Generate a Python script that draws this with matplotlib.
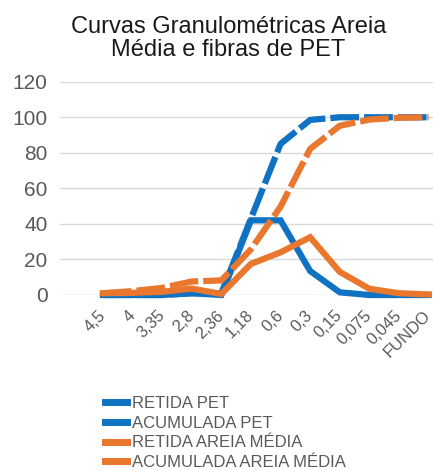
import matplotlib
matplotlib.use("Agg")
import matplotlib.pyplot as plt
from matplotlib.lines import Line2D
from matplotlib.transforms import ScaledTranslation

categories = ["4,5", "4", "3,35", "2,8", "2,36", "1,18", "0,6", "0,3", "0,15", "0,075", "0,045", "FUNDO"]
retida_pet = [0, 0, 0, 1, 0, 42, 42, 13.5, 1.5, 0, 0, 0]
acumulada_pet = [0, 0, 0, 1, 1, 43, 85, 98.5, 100, 100, 100, 100]
retida_areia = [1.0, 1.2, 1.8, 3.6, 0.6, 17.5, 24.0, 32.5, 13.0, 3.5, 1.0, 0.3]
acumulada_areia = [1.0, 2.2, 4.0, 7.6, 8.2, 25.7, 49.7, 82.2, 95.2, 98.7, 99.7, 100]
labels = ["RETIDA PET", "ACUMULADA PET", "RETIDA AREIA MÉDIA", "ACUMULADA AREIA MÉDIA"]
yticks = [0, 20, 40, 60, 80, 100, 120]

BLUE = "#0F72C2"
ORANGE = "#EA772E"
TXT = "#595959"

plt.rcParams['font.family'] = ['Liberation Sans', 'DejaVu Sans']

fig = plt.figure(figsize=(4.33, 4.70), dpi=100)
ax = fig.add_axes([60/433, 1 - 295/470, 1 - 60/433, (295 - 81.7)/470])

x = list(range(len(categories)))
lw = 4.5
ax.plot(x, retida_pet, color=BLUE, lw=lw, clip_on=False, zorder=3, solid_joinstyle='miter')
ax.plot(x, acumulada_pet, color=BLUE, lw=lw, clip_on=False, zorder=3, dashes=(4.6, 0.8))
ax.plot(x, retida_areia, color=ORANGE, lw=lw, clip_on=False, zorder=4, solid_joinstyle='miter')
ax.plot(x, acumulada_areia, color=ORANGE, lw=lw, clip_on=False, zorder=4, dashes=(4.6, 0.8))

ax.set_xlim(-1.45, 11.15)
ax.set_ylim(0, 120)
ax.set_yticks(yticks)
ax.set_yticklabels([str(v) for v in yticks], fontsize=15, color=TXT)
ax.set_xticks(x)
ax.set_xticklabels(categories, fontsize=12, color=TXT, rotation=45, ha='right', va='center',
                   rotation_mode='anchor')
shift = ScaledTranslation(-6.5/100, 0, fig.dpi_scale_trans)
for lab in ax.get_xticklabels():
    lab.set_transform(lab.get_transform() + shift)
ax.tick_params(axis='both', length=0)
ax.tick_params(axis='y', pad=9)
ax.tick_params(axis='x', pad=13)
for s in ax.spines.values():
    s.set_visible(False)
ax.grid(axis='y', color='#D9D9D9', lw=1.0)
ax.set_axisbelow(True)

fig.text(228.5/433, 1 - 38.5/470, "Curvas Granulométricas Areia\nMédia e fibras de PET",
         ha='center', va='center', fontsize=17, color='#1a1a1a', linespacing=1.05)

handles = [Line2D([], [], color=c, lw=5) for c in [BLUE, BLUE, ORANGE, ORANGE]]
fig.legend(handles, labels, loc='upper left', bbox_to_anchor=(105/433, 1 - 396/470),
           frameon=False, fontsize=12, handlelength=1.3, handletextpad=0.3,
           labelspacing=0.28, borderpad=0, borderaxespad=0, labelcolor=TXT)

fig.savefig("out.png", dpi=100)
